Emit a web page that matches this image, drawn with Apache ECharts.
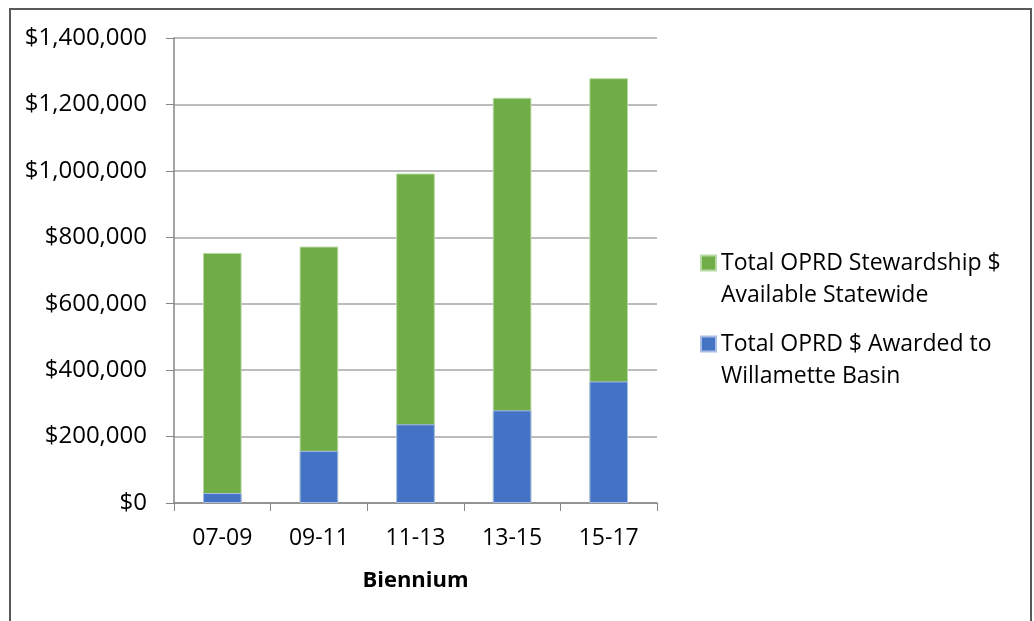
<!DOCTYPE html>
<html>
<head>
<meta charset="utf-8">
<title>OPRD Stewardship</title>
<script src="https://cdn.jsdelivr.net/npm/echarts@6/dist/echarts.min.js"></script>
<style>
    html, body { margin: 0; padding: 0; background: #fff; }
    #chart { width: 1034px; height: 621px; }
</style>
</head>
<body>
<div id="chart"></div>
<script>
// 数据
var biennium = ['07-09', '09-11', '11-13', '13-15', '15-17'];
var statewide = [753000, 772000, 992000, 1220000, 1279000];
var willamette = [30000, 157000, 237000, 279000, 366000];
var statewideName = 'Total OPRD Stewardship $\nAvailable Statewide';
var willametteName = 'Total OPRD $ Awarded to\nWillamette Basin';

var font = 'Open Sans';

function money(v) {
    return '$' + v.toLocaleString('en-US');
}

var chart = echarts.init(document.getElementById('chart'));
var option = {
    animation: false,
    textStyle: { fontFamily: font },
    graphic: [
        {
            type: 'rect',
            shape: { x: 10, y: 9, width: 1021, height: 640 },
            style: { fill: 'none', stroke: '#595959', lineWidth: 2 }
        }
    ],
    legend: {
        orient: 'vertical',
        left: 700,
        top: 215,
        padding: 0,
        itemWidth: 15,
        itemHeight: 15,
        itemGap: -15,
        icon: 'rect',
        // 空的第一行让色块对齐第一行文字
        formatter: function (name) {
            return ' \n' + name;
        },
        textStyle: {
            fontFamily: font,
            fontSize: 23,
            color: '#000',
            lineHeight: 32
        },
        data: [statewideName, willametteName]
    },
    grid: {
        left: 174,
        right: 377,
        top: 38,
        bottom: 118
    },
    xAxis: {
        type: 'category',
        data: biennium,
        name: 'Biennium',
        nameLocation: 'middle',
        nameGap: 67,
        nameTextStyle: {
            fontFamily: font,
            fontSize: 22,
            fontWeight: 'bold',
            color: '#000'
        },
        axisLine: { lineStyle: { color: '#868686', width: 1.5 } },
        axisTick: { show: true, length: 8, lineStyle: { color: '#868686' } },
        axisLabel: {
            fontFamily: font,
            fontSize: 23,
            color: '#000',
            margin: 24
        }
    },
    yAxis: {
        type: 'value',
        min: 0,
        max: 1400000,
        interval: 200000,
        axisLine: { show: true, lineStyle: { color: '#868686', width: 1.5 } },
        axisTick: { show: true, length: 8, lineStyle: { color: '#868686' } },
        splitLine: { lineStyle: { color: '#a6a6a6', width: 1.5 } },
        axisLabel: {
            fontFamily: font,
            fontSize: 24,
            color: '#000',
            margin: 27,
            formatter: money
        }
    },
    series: [
        {
            name: statewideName,
            type: 'bar',
            data: statewide,
            barWidth: '40%',
            barGap: '-100%',
            itemStyle: { color: '#70ad47', borderColor: '#b7d9a3', borderWidth: 1 }
        },
        {
            name: willametteName,
            type: 'bar',
            data: willamette,
            barWidth: '40%',
            barGap: '-100%',
            itemStyle: { color: '#4472c4', borderColor: '#a9bde6', borderWidth: 1 }
        }
    ]
};
chart.setOption(option);

window.onresize = function () {
    chart.resize();
};
</script>
</body>
</html>
